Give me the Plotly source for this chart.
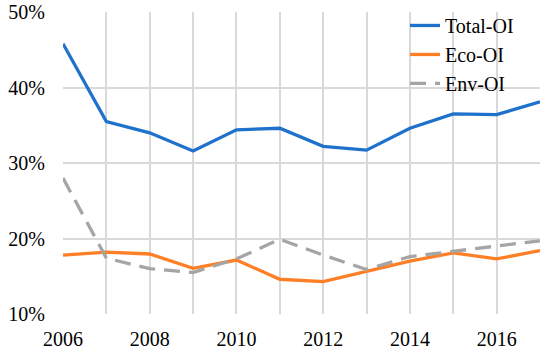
import plotly.graph_objects as go

years = list(range(2006, 2018))
total_oi = [45.8, 35.5, 34.0, 31.6, 34.4, 34.6, 32.2, 31.7, 34.6, 36.5, 36.4, 38.1]
eco_oi = [17.8, 18.2, 17.95, 16.05, 17.15, 14.6, 14.3, 15.7, 17.0, 18.1, 17.3, 18.4]
env_oi = [28.0, 17.4, 16.0, 15.5, 17.3, 19.9, 17.8, 15.9, 17.6, 18.3, 19.1, 19.7]
x_labels = ["2006", "", "2008", "", "2010", "", "2012", "", "2014", "", "2016", ""]
y_ticks = [10, 20, 30, 40, 50]
y_labels = ["10%", "20%", "30%", "40%", "50%"]

fig = go.Figure()
fig.add_trace(go.Scatter(x=years, y=total_oi, mode="lines", name="Total-OI",
                         line=dict(color="#1F72CC", width=3.3)))
fig.add_trace(go.Scatter(x=years, y=eco_oi, mode="lines", name="Eco-OI",
                         line=dict(color="#FF7F27", width=3.3)))
fig.add_trace(go.Scatter(x=years, y=env_oi, mode="lines", name="Env-OI",
                         line=dict(color="#A5A5A5", width=3.3, dash="16px,9px")))

fig.update_layout(
    width=550, height=351,
    margin=dict(l=63, r=10, t=12, b=37, autoexpand=False),
    paper_bgcolor="white", plot_bgcolor="white",
    showlegend=True,
    legend=dict(x=0.717, y=1.02, xanchor="left", yanchor="top",
                bgcolor="rgba(0,0,0,0)",
                font=dict(family="Times New Roman", size=20, color="black"),
                tracegroupgap=0, itemwidth=30),
)
fig.update_xaxes(range=[2006, 2017], tickvals=years, ticktext=x_labels,
                 showgrid=True, gridcolor="#D9D9D9", gridwidth=1.6,
                 zeroline=False, showline=False, automargin=False,
                 ticks="outside", ticklen=7, tickcolor="rgba(0,0,0,0)",
                 tickfont=dict(family="Times New Roman", size=20, color="black"))
fig.update_yaxes(range=[10, 50], tickvals=y_ticks, ticktext=y_labels,
                 showgrid=True, gridcolor="#D9D9D9", gridwidth=1.6,
                 zeroline=False, showline=False, automargin=False,
                 ticks="outside", ticklen=13, tickcolor="rgba(0,0,0,0)",
                 tickfont=dict(family="Times New Roman", size=20, color="black"))

fig.write_html("out.html", config={"displayModeBar": False},
               post_script="document.body.style.margin='0';")
